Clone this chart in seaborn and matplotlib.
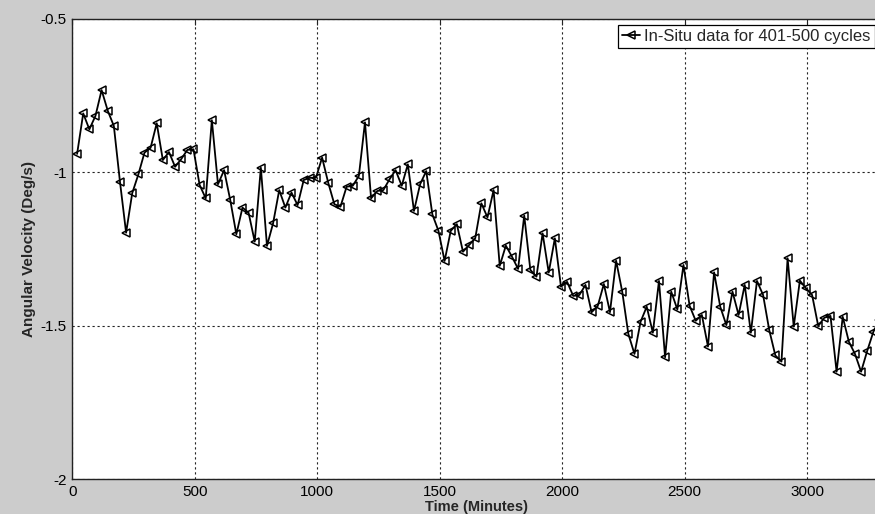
import numpy as np
import pandas as pd
import matplotlib
matplotlib.use("Agg")
import matplotlib.pyplot as plt
import seaborn as sns

# Angular velocity readings (Deg/s), one every 25 minutes starting at minute 20
start_minute = 20
step_minutes = 25
angular_velocity = [
    -0.940, -0.808, -0.860, -0.816, -0.732, -0.799, -0.849, -1.031, -1.197, -1.068,
    -1.007, -0.936, -0.920, -0.840, -0.960, -0.934, -0.982, -0.957, -0.927, -0.925,
    -1.041, -1.085, -0.830, -1.039, -0.993, -1.090, -1.202, -1.115, -1.132, -1.226,
    -0.985, -1.240, -1.166, -1.058, -1.115, -1.066, -1.107, -1.025, -1.018, -1.018,
    -0.952, -1.034, -1.104, -1.112, -1.047, -1.044, -1.012, -0.837, -1.085, -1.061,
    -1.058, -1.023, -0.993, -1.044, -0.974, -1.126, -1.039, -0.996, -1.137, -1.191,
    -1.289, -1.191, -1.169, -1.259, -1.237, -1.215, -1.101, -1.147, -1.058, -1.305,
    -1.239, -1.275, -1.315, -1.141, -1.318, -1.340, -1.199, -1.327, -1.215, -1.373,
    -1.357, -1.403, -1.400, -1.367, -1.456, -1.436, -1.364, -1.456, -1.288, -1.389,
    -1.527, -1.592, -1.487, -1.438, -1.523, -1.354, -1.603, -1.389, -1.447, -1.302,
    -1.435, -1.484, -1.465, -1.568, -1.326, -1.438, -1.498, -1.389, -1.465, -1.367,
    -1.523, -1.354, -1.400, -1.514, -1.597, -1.617, -1.280, -1.503, -1.353, -1.378,
    -1.400, -1.501, -1.474, -1.468, -1.650, -1.471, -1.552, -1.592, -1.650, -1.582,
    -1.520, -1.480,
]
time_minutes = start_minute + step_minutes * np.arange(len(angular_velocity))

series_label = "In-Situ data for 401-500 cycles"
x_ticks = [0, 500, 1000, 1500, 2000, 2500, 3000]
y_ticks = [-2, -1.5, -1, -0.5]
y_tick_labels = ["-2", "-1.5", "-1", "-0.5"]

df = pd.DataFrame({"Time": time_minutes, "Velocity": angular_velocity})

sns.set_style("white")
plt.rcParams["font.family"] = ["Liberation Sans", "DejaVu Sans"]

W, H = 875, 514
fig = plt.figure(figsize=(W / 100, H / 100), dpi=100, facecolor="#cccccc")
left, right, top, bottom = 72.2, 880.7, 18.9, 479.1
ax = fig.add_axes([left / W, 1 - bottom / H, (right - left) / W, (bottom - top) / H])
ax.set_facecolor("white")

sns.lineplot(
    data=df, x="Time", y="Velocity", ax=ax,
    color="black", linewidth=1.3, marker="<", markersize=5.2,
    markerfacecolor="none", markeredgecolor="black", markeredgewidth=1.1,
    label=series_label, sort=False, estimator=None,
)

ax.set_xlim(0, 3300)
ax.set_ylim(-2, -0.5)
ax.set_xticks(x_ticks)
ax.set_xticklabels([str(v) for v in x_ticks])
ax.set_yticks(y_ticks)
ax.set_yticklabels(y_tick_labels)

ax.grid(True, color="#222222", linestyle=(0, (2, 2.5)), linewidth=0.8)
ax.tick_params(axis="both", direction="in", length=4, width=0.8, color="#222222",
               labelsize=11, labelcolor="black", top=True, right=True, pad=4)
for side, spine in ax.spines.items():
    spine.set_visible(True)
    spine.set_color("#222222")
    spine.set_linewidth(1.0)

ax.set_xlabel("Time (Minutes)", fontsize=10.5, fontweight="bold", labelpad=1)
ax.set_ylabel("Angular Velocity (Deg/s)", fontsize=11, fontweight="bold", labelpad=3)

leg = ax.legend(
    loc="upper right", fontsize=12, frameon=True, fancybox=False,
    edgecolor="black", framealpha=1, handlelength=1.1, handletextpad=0.25,
    borderpad=0.25, borderaxespad=0.35,
)
leg.get_frame().set_linewidth(0.9)

fig.savefig("out.png", dpi=100, facecolor=fig.get_facecolor())
